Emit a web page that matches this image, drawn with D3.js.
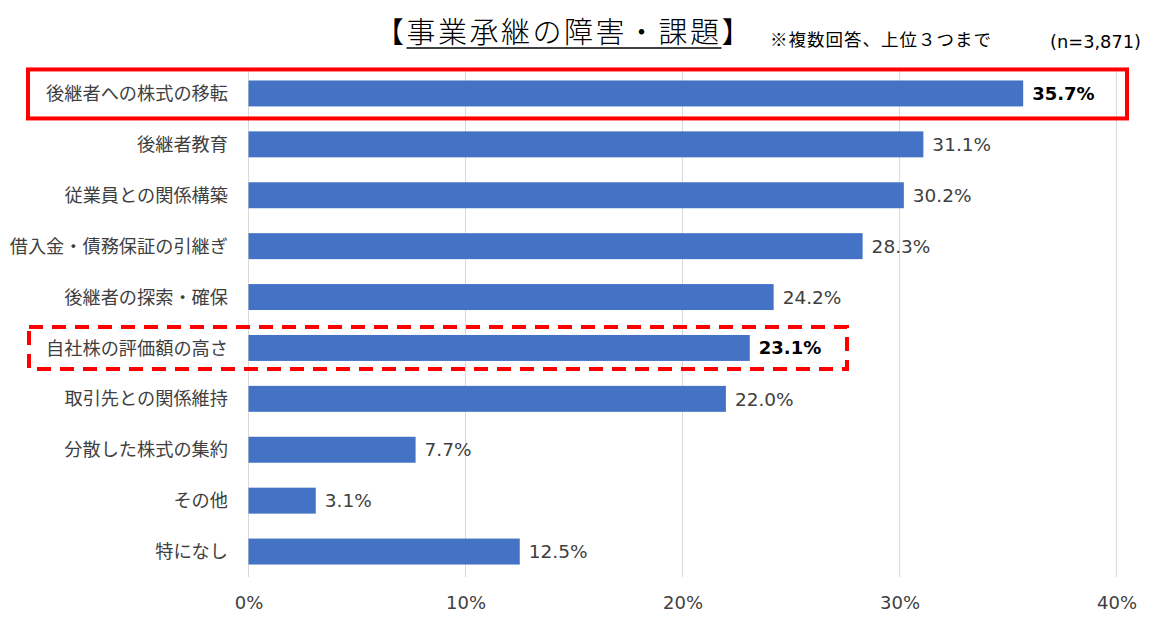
<!DOCTYPE html>
<html><head><meta charset="utf-8">
<script src="https://cdn.jsdelivr.net/npm/d3@7"></script>
<style>
body{margin:0;background:#fff;}
text{font-family:"Noto Sans CJK JP","Noto Sans",sans-serif;}
.num{font-family:"DejaVu Sans",sans-serif;}
</style></head>
<body><svg id="c" width="1151" height="620"></svg>
<script>
const categories = ["後継者への株式の移転","後継者教育","従業員との関係構築","借入金・債務保証の引継ぎ","後継者の探索・確保","自社株の評価額の高さ","取引先との関係維持","分散した株式の集約","その他","特になし"];
const values = [35.7,31.1,30.2,28.3,24.2,23.1,22.0,7.7,3.1,12.5];
const boldIdx = [0,5];
const tickValues = [0,10,20,30,40];
const titleText = "【事業承継の障害・課題】";
const noteText = "※複数回答、上位３つまで";
const nText = "(n=3,871)";

const svg = d3.select("#c");
const x = d3.scaleLinear().domain([0,40]).range([248.5,1116.5]);
const y = d3.scaleBand().domain(categories).range([68,577]).paddingInner(0.49).paddingOuter(0.245);

// gridlines
svg.append("g").selectAll("line").data(tickValues).join("line")
  .attr("x1",d=>x(d)).attr("x2",d=>x(d)).attr("y1",68).attr("y2",577)
  .attr("stroke","#d9d9d9").attr("stroke-width",1);

// x axis labels
const xa = svg.append("g").attr("transform","translate(0,577)")
  .call(d3.axisBottom(x).tickValues(tickValues).tickFormat(d=>d+"%").tickSize(0).tickPadding(19));
xa.select(".domain").remove();
xa.selectAll("text").attr("font-size",18).attr("fill","#404040").style("font-family",'"DejaVu Sans",sans-serif');

// bars
svg.append("g").selectAll("rect").data(values).join("rect")
  .attr("x",x(0)).attr("y",(d,i)=>y(categories[i]))
  .attr("width",d=>x(d)-x(0)).attr("height",y.bandwidth())
  .attr("fill","#4472c4");

// value labels
svg.append("g").selectAll("text").data(values).join("text")
  .attr("class","num")
  .attr("x",d=>x(d)+9).attr("y",(d,i)=>y(categories[i])+y.bandwidth()/2)
  .attr("dy","0.36em").attr("font-size",(d,i)=>boldIdx.includes(i)?18:18.5)
  .attr("font-weight",(d,i)=>boldIdx.includes(i)?"bold":"normal")
  .attr("fill",(d,i)=>boldIdx.includes(i)?"#000":"#404040")
  .text(d=>d.toFixed(1)+"%");

// category labels
svg.append("g").selectAll("text").data(categories).join("text")
  .attr("x",228).attr("y",d=>y(d)+y.bandwidth()/2).attr("dy","0.36em")
  .attr("text-anchor","end").attr("font-size",18.2).attr("fill","#404040")
  .text(d=>d);

// highlight boxes
const b0 = y(categories[0]), b5 = y(categories[5]);
svg.append("rect").attr("x",28).attr("y",b0+y.bandwidth()/2-24).attr("width",1099).attr("height",49)
  .attr("fill","none").attr("stroke","#ff0000").attr("stroke-width",4);
svg.append("rect").attr("x",29).attr("y",b5+y.bandwidth()/2-21).attr("width",818).attr("height",42)
  .attr("fill","none").attr("stroke","#ff0000").attr("stroke-width",4).attr("stroke-dasharray","14,9");

// title
const t = svg.append("text").attr("x",564).attr("y",43).attr("text-anchor","middle")
  .attr("font-size",29).attr("font-weight",300).attr("letter-spacing",2.5).attr("fill","#000").text(titleText);
const tn = t.node();
const ux1 = tn.getStartPositionOfChar(1).x, ux2 = tn.getEndPositionOfChar(titleText.length-2).x;
svg.append("line").attr("x1",ux1).attr("x2",ux2).attr("y1",48).attr("y2",48)
  .attr("stroke","#000").attr("stroke-width",1.5);

svg.append("text").attr("x",770).attr("y",46).attr("font-size",17.5).attr("letter-spacing",1).attr("fill","#000").text(noteText);
svg.append("text").attr("class","num").attr("x",1141).attr("y",48).attr("text-anchor","end").attr("font-size",17.8).attr("fill","#000").text(nText);
</script></body></html>
